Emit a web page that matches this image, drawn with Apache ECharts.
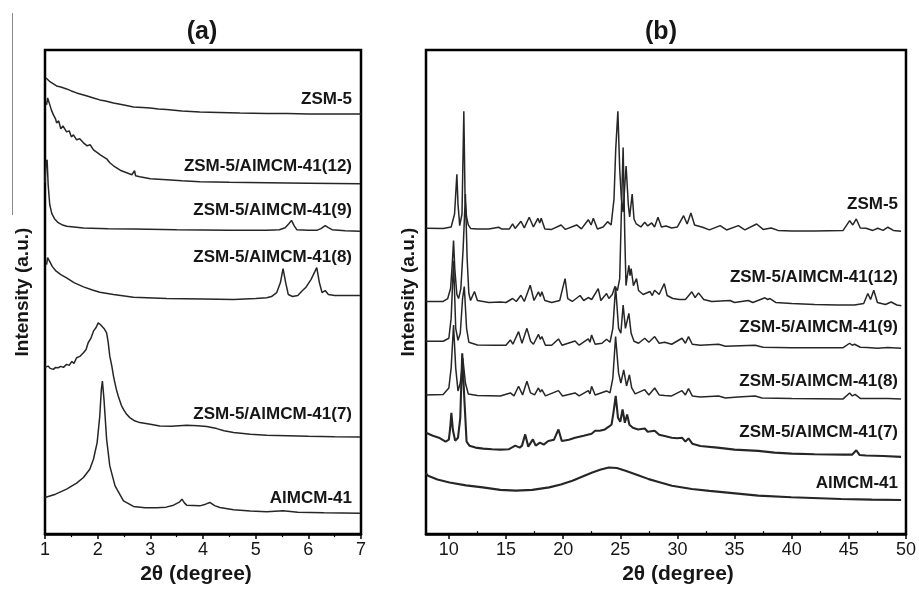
<!DOCTYPE html>
<html>
<head>
<meta charset="utf-8">
<script src="https://cdn.jsdelivr.net/npm/echarts@6/dist/echarts.min.js"></script>
<style>
html,body{margin:0;padding:0;background:#fff;}
#chart{width:919px;height:590px;}
</style>
</head>
<body>
<div id="chart"></div>
<script>
// ---------- tick labels ----------
const ticksA = [1, 2, 3, 4, 5, 6, 7];
const ticksB = [10, 15, 20, 25, 30, 35, 40, 45, 50];
const minorTicksB = [12.5, 17.5, 22.5, 27.5, 32.5, 37.5, 42.5, 47.5];

// ---------- sample names ----------
const namesA = ['ZSM-5', 'ZSM-5/AlMCM-41(12)', 'ZSM-5/AlMCM-41(9)', 'ZSM-5/AlMCM-41(8)', 'ZSM-5/AlMCM-41(7)', 'AlMCM-41'];
const namesB = ['ZSM-5', 'ZSM-5/AlMCM-41(12)', 'ZSM-5/AlMCM-41(9)', 'ZSM-5/AlMCM-41(8)', 'ZSM-5/AlMCM-41(7)', 'AlMCM-41'];

// ---------- panel (a): low-angle patterns [2θ, intensity a.u. (stacked)] ----------
const a_ZSM5 = [[1.02,457],[1.06,455],[1.1,453],[1.16,451],[1.22,449],[1.3,448],[1.41,446],[1.5,444],[1.6,442],[1.7,440.5],[1.8,439],[1.92,437],[2.04,435],[2.15,434],[2.3,432],[2.5,430],[2.68,428],[2.85,427.5],[3.0,427],[3.15,426],[3.31,425.5],[3.6,424],[3.94,423],[4.3,422.5],[4.7,422],[5.21,421.5],[5.6,421.5],[6.0,421],[6.5,421],[7.0,421]];
const a_S12 = [[1.03,430],[1.05,437],[1.08,432],[1.12,425],[1.16,420],[1.2,416],[1.22,412],[1.26,414],[1.3,406],[1.34,409],[1.41,403],[1.46,404],[1.5,398],[1.54,400],[1.6,395],[1.66,396],[1.73,392],[1.8,389],[1.86,390],[1.92,385],[2.0,382],[2.05,380],[2.11,378],[2.17,376],[2.2,378],[2.23,372],[2.3,369],[2.36,367],[2.45,364],[2.55,362],[2.65,360],[2.7,364],[2.72,359],[2.8,358],[3.0,356],[3.31,355],[3.6,354],[3.94,353],[4.5,352.5],[5.21,352],[6.0,351.5],[6.98,351]];
const a_S9 = [[1.0,352],[1.02,372],[1.04,375],[1.06,350],[1.09,330],[1.13,321],[1.18,316],[1.25,312],[1.32,310],[1.41,308.5],[1.73,306.7],[2.2,306],[2.68,305.7],[3.5,305],[4.5,304.5],[5.21,304.3],[5.45,305],[5.56,307],[5.63,311],[5.68,314.3],[5.73,309],[5.78,305],[6.0,304.3],[6.16,304.3],[6.24,306],[6.32,309],[6.38,307],[6.45,305],[6.7,304],[6.98,303.3]];
const a_S8 = [[1.03,270],[1.05,277],[1.08,274],[1.11,272],[1.14,268],[1.2,264],[1.3,260],[1.41,256.7],[1.55,252],[1.73,247.7],[1.9,244.5],[2.04,242.3],[2.3,240],[2.68,237.3],[3.31,236],[4.0,235.5],[4.58,235],[5.0,236],[5.21,236.7],[5.3,238],[5.4,242],[5.47,252],[5.52,266],[5.57,252],[5.62,240],[5.7,238],[5.8,239],[5.87,243],[5.95,247],[6.05,255],[6.16,267],[6.21,252],[6.26,242],[6.32,244],[6.38,240],[6.5,239],[6.98,239]];
const a_S7 = [[1.0,167],[1.06,168.3],[1.1,166],[1.16,165],[1.2,167],[1.25,166.7],[1.3,168],[1.35,167],[1.41,170],[1.46,169],[1.51,173],[1.55,171],[1.6,176.7],[1.66,178],[1.73,181.7],[1.78,185],[1.82,191.7],[1.87,196],[1.92,203.3],[1.97,207],[2.01,211.7],[2.05,210],[2.08,210],[2.12,206],[2.17,201.7],[2.2,192],[2.23,178.3],[2.27,168],[2.3,158.3],[2.35,146],[2.39,138.3],[2.45,129],[2.49,125],[2.55,120],[2.61,116.7],[2.7,113.5],[2.8,111.7],[3.0,110],[3.18,108.3],[3.4,108],[3.69,109],[3.9,108.5],[4.07,107.7],[4.26,105.7],[4.4,103.5],[4.58,101.7],[4.9,100],[5.21,99],[5.6,98.5],[6.0,98],[6.5,97.5],[6.98,97.3]];
const a_AlMCM = [[1.0,36.7],[1.2,40],[1.41,45],[1.6,51],[1.73,56.7],[1.85,65],[1.92,75],[1.99,91.7],[2.04,118.3],[2.07,145],[2.09,153.3],[2.12,135],[2.17,95],[2.23,68.3],[2.33,48.3],[2.49,33.3],[2.68,27.7],[2.9,26.5],[3.12,26.3],[3.3,27],[3.44,29],[3.55,32],[3.6,35],[3.65,31],[3.69,29],[3.94,28.3],[4.05,30],[4.13,31.7],[4.22,28.5],[4.32,26.7],[4.58,24.3],[4.9,23.2],[5.21,22.3],[5.52,23.3],[5.8,22],[6.3,21.5],[6.98,21]];

// ---------- panel (b): wide-angle patterns [2θ, intensity a.u. (stacked)] ----------
const b_ZSM5 = [[8.0,307.7],[9.5,307.5],[10.2,309],[10.5,322],[10.6,342],[10.7,362],[10.8,332],[10.95,310.3],[11.15,322],[11.31,425.3],[11.42,337],[11.55,319],[11.7,311],[11.9,307.5],[12.5,307],[13.5,307],[14.36,308.7],[14.6,307],[15.3,307],[15.58,312],[15.8,307.5],[16.31,314.7],[16.6,308],[17.03,318.7],[17.4,309],[17.79,317.7],[17.95,313],[18.08,317.7],[18.4,307],[19.0,306.5],[19.82,311],[20.2,306.5],[21.18,311],[21.6,307],[22.2,316.3],[22.45,311],[22.64,317.7],[23.0,307],[23.5,309],[23.89,314.3],[24.2,311],[24.45,337],[24.6,387],[24.79,425.3],[24.95,367],[25.1,337],[25.25,324],[25.4,352],[25.51,370.3],[25.7,332],[25.82,319],[26.04,342],[26.2,317],[26.4,312],[26.8,309],[27.14,313.7],[27.4,310],[27.75,313],[28.0,309],[28.3,318.7],[28.6,309],[29.0,310],[29.5,308],[30.0,309],[30.54,320.3],[30.85,312],[31.18,323],[31.5,311],[32.2,308.7],[32.8,306],[33.74,310.3],[34.3,306],[35.33,310.3],[35.9,306],[36.93,312],[37.5,306.5],[38.2,308],[38.8,305.5],[40,305],[42,305],[44.5,305.5],[45.07,315.3],[45.35,311],[45.65,317],[46.0,308],[46.5,307.7],[47.1,305.5],[47.53,307.7],[48.0,305.5],[48.41,308.7],[48.9,305.5],[49.57,304.7]];
const b_S12 = [[8.0,234],[9.5,234],[9.9,237],[10.15,247],[10.3,272],[10.41,295.3],[10.52,267],[10.7,241],[10.85,237],[11.05,247],[11.25,287],[11.45,342],[11.6,277],[11.75,242],[11.9,235],[12.24,244],[12.5,235],[13.5,233],[14.5,233.5],[15.0,233],[15.58,237],[15.9,234],[16.31,240.3],[16.6,234],[17.12,250.3],[17.45,235],[17.84,243.7],[18.0,239],[18.14,243.7],[18.4,235],[19.0,233],[19.7,235],[19.95,247],[20.17,257],[20.4,237],[20.8,234],[21.48,240],[21.8,235],[22.2,238],[22.5,236],[23.07,247],[23.3,235],[23.8,242],[24.0,237],[24.3,241],[24.53,249],[24.75,245],[24.95,257],[25.08,317],[25.25,389],[25.4,297],[25.5,250],[25.75,270.3],[25.85,260],[25.95,267],[26.15,250],[26.42,257],[26.6,245],[27.0,241],[27.6,244],[27.8,240],[28.0,245.3],[28.4,241],[28.85,252],[29.1,240],[29.6,237],[30.2,236],[30.7,236],[31.26,243.7],[31.55,238],[31.85,242.7],[32.3,236],[33.0,234],[34.6,235],[35.0,233],[36.2,235],[36.6,233],[37.66,237.7],[37.9,236],[38.1,237],[38.6,233],[40,232],[42,231],[44,230.5],[45.5,230.5],[46.3,232],[46.66,242],[46.9,236],[47.18,245.3],[47.5,233],[48.2,231],[48.7,233.5],[49.2,230.5],[49.6,229.7]];
const b_S9 = [[8.0,194],[9.5,194],[10.0,197],[10.2,217],[10.41,275],[10.6,207],[10.8,195],[11.0,202],[11.2,237],[11.35,249],[11.55,207],[11.75,193],[12.5,190.3],[14.0,190],[15.0,190],[15.38,195.3],[15.6,191],[16.1,203.7],[16.4,192],[16.83,207],[17.15,194],[17.4,191],[17.84,201],[18.0,196],[18.14,198.7],[18.45,190],[19.0,190],[19.59,196.3],[19.9,190],[21.04,194.3],[21.4,190],[22.2,196.3],[22.35,193],[22.49,200.3],[22.8,191],[23.4,192],[23.8,196],[24.1,193],[24.35,207],[24.59,249],[24.85,207],[25.05,202],[25.25,230.3],[25.45,207],[25.75,222],[25.95,202],[26.2,194],[26.6,192],[27.14,197],[27.5,193],[28.01,198.7],[28.4,192],[28.88,193],[29.5,191],[30.4,197],[30.7,192],[30.97,198.7],[31.3,191],[32,190],[33.6,191],[34.2,189],[36.8,190],[37.5,188],[40,187.5],[44.5,187.5],[45.07,192],[45.3,190],[45.5,191],[46,188],[46.6,187.7],[47.5,187],[48.4,187.7],[49.57,187]];
const b_S8 = [[8.0,140],[9.5,140.5],[10.0,147],[10.2,167],[10.41,210.3],[10.6,167],[10.8,144],[11.0,152],[11.1,162],[11.22,177],[11.45,152],[11.7,141],[12.5,139.5],[14.5,139],[15.38,142],[15.7,139],[16.1,148.7],[16.45,140],[16.83,153.7],[17.15,142],[17.5,140],[17.84,147],[18.0,143],[18.14,145.3],[18.45,139],[19.59,144.3],[19.95,139],[21.04,142],[21.4,139],[22.2,144.3],[22.35,141],[22.49,148.7],[22.8,140],[23.8,144],[24.1,142],[24.35,157],[24.59,198.7],[24.85,162],[25.05,152],[25.3,165.3],[25.55,149],[25.8,160.3],[26.0,147],[26.3,141],[27.14,145.3],[27.5,140],[28.01,147],[28.4,140],[28.88,139.5],[29.5,139],[30.4,144.3],[30.7,140],[30.97,146.3],[31.3,139],[32,138],[33.6,139],[34.2,137],[35.3,138],[36.8,139],[37.4,137],[40,136.5],[44.5,136],[45.07,142],[45.3,139],[45.55,140.5],[46,136.5],[48.4,136.5],[49.57,136]];
const b_S7 = [[8.0,102],[8.6,99],[9.13,97],[9.71,93],[10.0,95],[10.12,107],[10.22,122],[10.35,105],[10.55,94],[10.8,97],[11.0,117],[11.17,182],[11.35,137],[11.55,93],[11.8,89],[12.33,87],[13.0,86],[13.78,85.3],[14.5,85],[15.23,85.3],[15.81,89],[16.2,87],[16.4,89],[16.68,100.3],[16.95,88],[17.35,95.3],[17.6,89],[17.97,92],[18.3,90],[18.7,93.7],[19.2,95],[19.59,105.3],[19.88,93.7],[20.5,95],[21.04,97],[21.8,99],[22.49,101],[22.8,104],[23.2,104],[23.65,105.3],[24.0,108],[24.24,110.3],[24.4,122],[24.6,139],[24.8,117],[25.0,113],[25.2,125.3],[25.4,112],[25.6,120.3],[25.8,110],[26.1,107],[26.56,105.3],[27.14,106.3],[27.4,103],[28.01,104],[28.4,100],[28.88,98.7],[29.5,97],[30.0,96.5],[30.4,97],[30.7,93],[30.97,96.3],[31.3,91],[32.0,88.7],[33.5,87],[35.0,85],[37.07,83.7],[38.5,82],[40,81],[42,80.3],[44.5,80],[45.3,80],[45.65,84.3],[45.95,79.5],[46.5,79],[48,78.5],[49.57,77.7]];
const b_AlMCM = [[8.0,61],[8.18,58.7],[9.0,55],[10.06,52],[11.5,49],[12.96,47],[14.5,44.5],[15.87,43.7],[17.3,44.5],[18.78,47],[19.8,50],[20.81,53.7],[21.7,58],[22.55,62],[23.3,65],[24.0,67],[24.7,66.5],[25.46,63.7],[26.5,59.5],[27.49,55.3],[28.36,52.5],[29.52,48.7],[31.26,45.3],[32.8,43.5],[34.16,42],[37.07,38.7],[39.97,37],[44.33,35.3],[47,34.7],[49.57,34.3]];

const seriesA = [a_ZSM5, a_S12, a_S9, a_S8, a_S7, a_AlMCM];
const seriesB = [b_ZSM5, b_S12, b_S9, b_S8, b_S7, b_AlMCM];

const FONT = '"Liberation Sans", Arial, sans-serif';
const INK = '#161616';
const LINE = '#262626';

const chart = echarts.init(document.getElementById('chart'), null, {renderer: 'canvas'});

function xAxisBase(grid, min, max) {
  return {
    gridIndex: grid, type: 'value', min: min, max: max,
    axisLine: {show: true, onZero: false, lineStyle: {color: '#000', width: 2.5}},
    splitLine: {show: false},
    minorSplitLine: {show: false}
  };
}

const labelStyle = {color: INK, fontSize: 18, fontFamily: FONT, margin: 7};
const nameStyle = {color: INK, fontSize: 21, fontWeight: 'bold', fontFamily: FONT};

const option = {
  backgroundColor: '#fff',
  animation: false,
  grid: [
    {left: 45, top: 50, width: 316, height: 485, show: true, borderColor: '#000', borderWidth: 2.5, backgroundColor: 'transparent'},
    {left: 426, top: 50, width: 483, height: 487, show: true, borderColor: '#000', borderWidth: 2.5, backgroundColor: 'transparent'}
  ],
  xAxis: [
    Object.assign(xAxisBase(0, 1, 7), {
      interval: 1,
      axisTick: {show: true, inside: false, length: 5, lineStyle: {color: '#000', width: 1.5}},
      minorTick: {show: true, splitNumber: 2, length: 3, lineStyle: {color: '#000', width: 1.2}},
      axisLabel: Object.assign({}, labelStyle, {customValues: ticksA}),
      name: '2θ (degree)', nameLocation: 'middle', nameGap: 29,
      nameTextStyle: Object.assign({}, nameStyle, {padding: [0, 14, 0, 0]})
    }),
    Object.assign(xAxisBase(1, 8, 50), {
      axisTick: {show: true, inside: false, length: 5, customValues: ticksB, lineStyle: {color: '#000', width: 1.5}},
      axisLabel: Object.assign({}, labelStyle, {customValues: ticksB}),
      name: '2θ (degree)', nameLocation: 'middle', nameGap: 29,
      nameTextStyle: Object.assign({}, nameStyle, {padding: [0, 0, 0, 24]})
    }),
    Object.assign(xAxisBase(1, 8, 50), {
      axisLine: {show: false},
      axisTick: {show: true, inside: false, length: 3, customValues: minorTicksB, lineStyle: {color: '#000', width: 1.2}},
      axisLabel: {show: false}
    })
  ],
  yAxis: [
    {gridIndex: 0, type: 'value', min: 0, max: 485,
     axisLine: {show: false}, axisTick: {show: false}, axisLabel: {show: false}, splitLine: {show: false},
     name: 'Intensity (a.u.)', nameLocation: 'middle', nameRotate: 90, nameGap: 13,
     nameTextStyle: {color: INK, fontSize: 19, fontWeight: 'bold', fontFamily: FONT}},
    {gridIndex: 1, type: 'value', min: 0, max: 487,
     axisLine: {show: false}, axisTick: {show: false}, axisLabel: {show: false}, splitLine: {show: false},
     name: 'Intensity (a.u.)', nameLocation: 'middle', nameRotate: 90, nameGap: 8,
     nameTextStyle: {color: INK, fontSize: 19, fontWeight: 'bold', fontFamily: FONT}}
  ],
  series: []
};

seriesA.forEach(function (d, i) {
  option.series.push({
    name: 'a-' + namesA[i], type: 'line', xAxisIndex: 0, yAxisIndex: 0, data: d,
    symbol: 'none', silent: true, lineStyle: {color: LINE, width: 1.5}
  });
});
seriesB.forEach(function (d, i) {
  option.series.push({
    name: 'b-' + namesB[i], type: 'line', xAxisIndex: 1, yAxisIndex: 1, data: d,
    symbol: 'none', silent: true, lineStyle: {color: LINE, width: (i >= 4 ? 2.1 : 1.5)}
  });
});

// label placement (pixel layout of annotation text)
const labelYA = [99, 166, 210, 257, 414, 498];
const labelYB = [204, 277, 327, 381, 432, 483];

function txt(text, x, y, size, align) {
  return {type: 'text', x: x, y: y, silent: true, z: 100,
    style: {text: text, fill: INK, fontSize: size, fontWeight: 'bold', fontFamily: FONT,
            align: align, verticalAlign: 'middle'}};
}

const graphics = [];
graphics.push(txt('(a)', 202, 32, 25, 'center'));
graphics.push(txt('(b)', 661, 32, 25, 'center'));
namesA.forEach(function (n, i) { graphics.push(txt(n, 352, labelYA[i], 17, 'right')); });
namesB.forEach(function (n, i) { graphics.push(txt(n, 898, labelYB[i], 17, 'right')); });
graphics.push({type: 'line', silent: true, shape: {x1: 12.5, y1: 13, x2: 12.5, y2: 215},
  style: {stroke: '#8a8a8a', lineWidth: 1}});
option.graphic = graphics;

chart.setOption(option);
</script>
</body>
</html>
